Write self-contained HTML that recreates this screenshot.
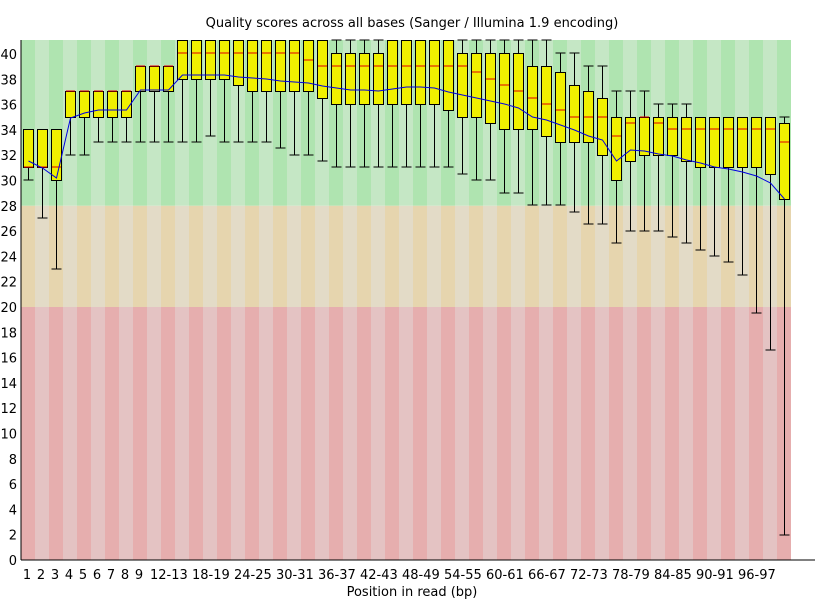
<!DOCTYPE html>
<html><head><meta charset="utf-8"><style>
html,body{margin:0;padding:0;background:#fff;}
svg{display:block;font-family:"DejaVu Sans","Liberation Sans",sans-serif;}
</style></head><body>
<svg id="s" width="825" height="600" xmlns="http://www.w3.org/2000/svg"></svg>
<script>
const s=document.getElementById('s');
let h='';
const L=21,W=14,N=55,TOP=40,BOT=560;
const y=v=>560-12.65*v;
const gz=y(28),oz=y(20);
for(let i=0;i<N;i++){
  const x=L+i*W, d=i%2==0;
  h+=`<rect x="${x}" y="${TOP}" width="${W}" height="${gz-TOP}" fill="${d?'#afe4b0':'#c5e7c5'}"/>`;
  h+=`<rect x="${x}" y="${gz}" width="${W}" height="${oz-gz}" fill="${d?'#e6d5ae':'#e3dbc7'}"/>`;
  h+=`<rect x="${x}" y="${oz}" width="${W}" height="${BOT-oz}" fill="${d?'#e6aeae':'#e4c3c3'}"/>`;
}
// [boxTop, boxBot, median, upperWhisker, lowerWhisker, mean]
const D=[
[129,167,167,129,180,161],[129,167,167,129,218,168],[129,180,167,129,269,178],
[91,117,91,91,155,118],[91,117,91,91,155,113],[91,117,91,91,142,110],[91,117,91,91,142,110],[91,117,91,91,142,110],
[66,91,66,66,142,90],[66,91,66,66,142,90],[66,91,66,66,142,90],
[40,79,53,40,142,75],[40,79,53,40,142,75],[40,79,53,40,136,75],[40,79,53,40,142,75],[40,85,53,40,142,77],
[40,91,53,40,142,78],[40,91,53,40,142,79],[40,91,53,40,148,81],[40,91,53,40,155,82],[40,91,60,40,155,83],
[40,98,66,40,161,86],[53,104,66,40,167,88],[53,104,66,40,167,90],[53,104,66,40,167,90],[53,104,66,40,167,91],
[40,104,66,40,167,89],[40,104,66,40,167,87],[40,104,66,40,167,87],[40,104,66,40,167,88],[40,110,66,40,167,92],
[53,117,66,40,174,95],[53,117,72,40,180,98],[53,123,79,40,180,101],[53,129,85,40,193,104],[53,129,91,40,193,108],
[66,129,98,40,205,117],[66,136,104,40,205,120],[72,142,110,53,205,125],[85,142,117,53,212,130],[91,142,117,66,224,136],
[98,155,117,66,224,140],[117,180,136,91,243,161],[117,161,123,91,231,150],[117,155,117,91,231,151],[117,155,123,104,231,154],
[117,155,129,104,237,156],[117,161,129,104,243,160],[117,167,129,117,250,163],[117,167,129,117,256,167],[117,167,129,117,262,169],
[117,167,129,117,275,172],[117,167,129,117,313,176],[117,174,129,117,350,183],[123,199,142,117,535,199]];
let pts=[];
D.forEach((d,i)=>{
  const c=L+i*W+7.5, bl=L+i*W+2.5;
  const [bt,bb,md,uw,lw,mn]=d;
  h+=`<line x1="${c}" y1="${bb}" x2="${c}" y2="${lw}" stroke="#000"/>`;
  h+=`<line x1="${bl}" y1="${lw}" x2="${bl+10}" y2="${lw}" stroke="#000"/>`;
  if(uw<bt){h+=`<line x1="${c}" y1="${uw}" x2="${c}" y2="${bt}" stroke="#000"/><line x1="${bl}" y1="${uw}" x2="${bl+10}" y2="${uw}" stroke="#000"/>`;}
  h+=`<rect x="${bl}" y="${bt+0.5}" width="10" height="${bb-bt}" fill="#f0f000" stroke="#000"/>`;
  h+=`<line x1="${bl+0.5}" y1="${md}" x2="${bl+9.5}" y2="${md}" stroke="#e00000"/>`;
  pts.push(`${c},${mn}`);
});
h+=`<polyline points="${pts.join(' ')}" fill="none" stroke="#0000e0" stroke-width="1"/>`;
h+=`<line x1="${L}" y1="${TOP}" x2="${L}" y2="${BOT}" stroke="#000"/>`;
h+=`<line x1="${L}" y1="${BOT}" x2="815" y2="${BOT}" stroke="#000"/>`;
for(let v=0;v<=40;v+=2){h+=`<text x="17" y="${y(v)+5}" font-size="13" text-anchor="end">${v}</text>`;}
const xl=[[1,27],[2,41],[3,55],[4,69],[5,83],[6,97],[7,111],[8,125],[9,139]];
xl.forEach(([t,x])=>h+=`<text x="${x}" y="579" font-size="13" text-anchor="middle">${t}</text>`);
const rl=['12-13','18-19','24-25','30-31','36-37','42-43','48-49','54-55','60-61','66-67','72-73','78-79','84-85','90-91','96-97'];
rl.forEach((t,i)=>h+=`<text x="${150+42*i}" y="579" font-size="13">${t}</text>`);
h+=`<text x="412" y="596" font-size="13" text-anchor="middle">Position in read (bp)</text>`;
h+=`<text x="412" y="27" font-size="13" text-anchor="middle">Quality scores across all bases (Sanger / Illumina 1.9 encoding)</text>`;
s.innerHTML=h;
</script>
</body></html>
